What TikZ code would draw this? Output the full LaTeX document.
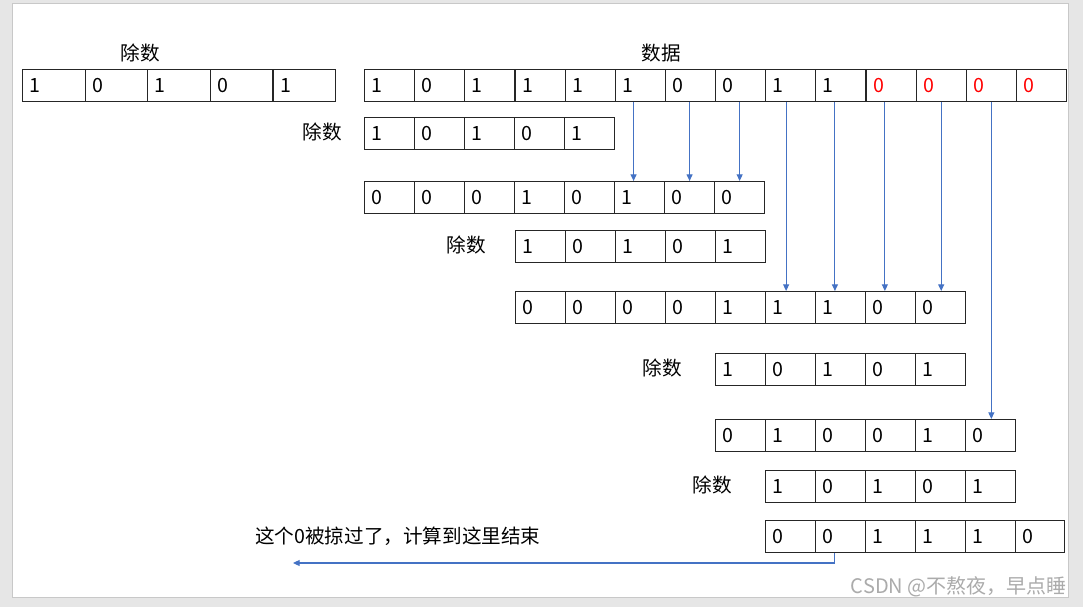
\documentclass[tikz,border=0pt]{standalone}
\usepackage{fontspec}
\setmainfont{Noto Sans CJK SC}
\usetikzlibrary{arrows.meta}
\definecolor{zblue}{HTML}{4472C4}
\definecolor{zred}{HTML}{FF0000}
\definecolor{zbg}{HTML}{E6E6E6}
\definecolor{zframe}{HTML}{C8C8C8}
\definecolor{zmark}{HTML}{ABABAB}
\newcommand{\cellrow}[7]{% name, x0(px), y0(px), w(px), w(pt), textwidth(pt), list
  \foreach \v [count=\i] in {#7}{%
    \node[cell, minimum width=#5, text width=#6] (#1-\i) at ({#2+(\i-1)*#4},#3) {\v};}}
\begin{document}
\begin{tikzpicture}[x=0.75pt,y=-0.75pt,
  cell/.style={draw=black!85, line width=0.9pt, anchor=north west, minimum height=24pt,
    inner xsep=5.25pt, inner ysep=0pt, align=left, font=\fontsize{14.7pt}{17pt}\selectfont},
  lbl/.style={font=\fontsize{14.7pt}{17pt}\selectfont, inner sep=0pt},
  arr/.style={draw=zblue, line width=0.8pt, -{Triangle[length=5pt,width=4.5pt]}}]
\fill[zbg] (0,0) rectangle (1083,607);
\filldraw[fill=white, draw=zframe] (12,3) rectangle (1068,597);
\useasboundingbox (0,0) rectangle (1083,607);

% labels
\node[lbl] (l0) at (140,53) {除数};
\node[lbl] (l0d) at (661,53) {数据};
\node[lbl] (l1) at (322,132) {除数};
\node[lbl] (l3) at (466,245) {除数};
\node[lbl] (l5) at (662,368) {除数};
\node[lbl] (l7) at (712,485) {除数};

% rows
\cellrow{g}{22}{69}{62.6}{46.95pt}{36.45pt}{1,0,1,0,1}
\cellrow{d}{364}{69}{50.14}{37.6pt}{27.1pt}{1,0,1,1,1,1,0,0,1,1,\textcolor{zred}{0},\textcolor{zred}{0},\textcolor{zred}{0},\textcolor{zred}{0}}
\cellrow{r1}{364}{117}{50}{37.5pt}{27pt}{1,0,1,0,1}
\cellrow{r2}{364}{181}{50}{37.5pt}{27pt}{0,0,0,1,0}
\cellrow{r2b}{614}{181}{50}{37.5pt}{27pt}{1,0,0}
\cellrow{r3}{515}{230}{50}{37.5pt}{27pt}{1,0,1,0,1}
\cellrow{r4}{515}{291}{50}{37.5pt}{27pt}{0,0,0,0,1}
\cellrow{r4b}{765}{291}{50}{37.5pt}{27pt}{1,1,0,0}
\cellrow{r5}{715}{353}{50}{37.5pt}{27pt}{1,0,1,0,1}
\cellrow{r6}{715}{419}{50}{37.5pt}{27pt}{0,1,0,0,1}
\cellrow{r6b}{965}{419}{50}{37.5pt}{27pt}{0}
\cellrow{r7}{765}{470}{50}{37.5pt}{27pt}{1,0,1,0,1}
\cellrow{r8}{765}{520}{50}{37.5pt}{27pt}{0,0,1,1,1}
\cellrow{r8b}{1015}{520}{49}{36.75pt}{26.25pt}{0}

% arrows
\coordinate (a6) at ([xshift=-5.1pt]d-6.south);
\coordinate (a7) at ([xshift=-0.7pt]d-7.south);
\coordinate (a8) at ([xshift=-0.75pt]d-8.south);
\coordinate (a9) at ([xshift=-3.5pt]d-9.south);
\coordinate (a10) at ([xshift=-4.5pt]d-10.south);
\coordinate (a11) at ([xshift=-4.65pt]d-11.south);
\coordinate (a12) at (d-12.south);
\coordinate (a13) at (d-13.south);
\draw[arr] (a6) -- (a6 |- r2b-1.north);
\draw[arr] (a7) -- (a7 |- r2b-1.north);
\draw[arr] (a8) -- (a8 |- r2b-1.north);
\draw[arr] (a9) -- (a9 |- r4b-1.north);
\draw[arr] (a10) -- (a10 |- r4b-1.north);
\draw[arr] (a11) -- (a11 |- r4b-1.north);
\draw[arr] (a12) -- (a12 |- r4b-1.north);
\draw[arr] (a13) -- (a13 |- r6b-1.north);

\node[lbl, anchor=west] (note) at (255,536) {这个0被掠过了，计算到这里结束};
\coordinate (b1) at ([xshift=-4.9pt]r8-2.south);
\coordinate (b2) at (293,563);
\draw[arr] (b1) |- (b2);

\node[font=\fontsize{15pt}{17pt}\selectfont, text=zmark, anchor=east, inner sep=0pt] (wm) at (1067,587) {CSDN @不熬夜，早点睡};
\end{tikzpicture}
\end{document}
